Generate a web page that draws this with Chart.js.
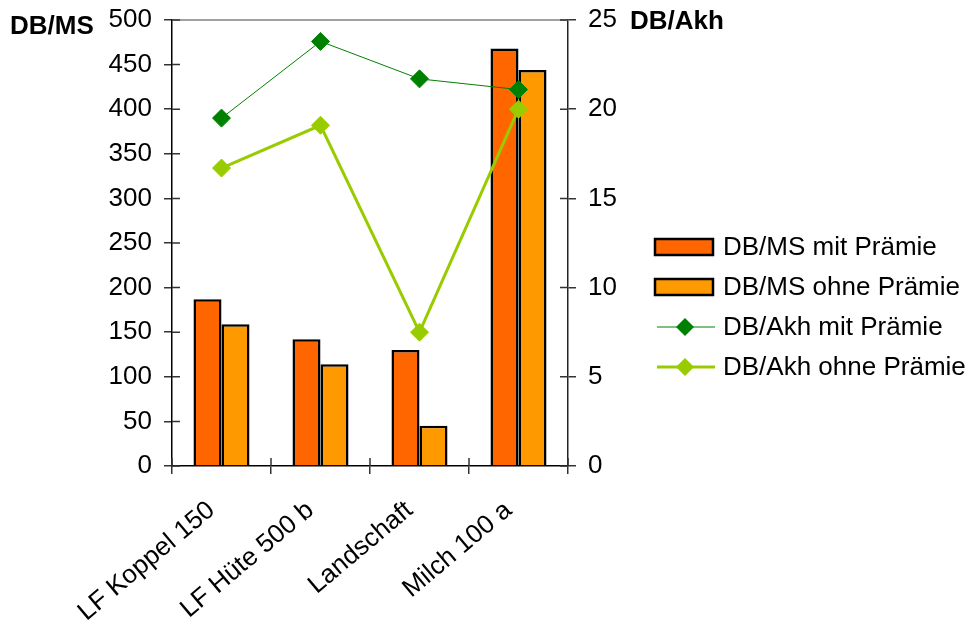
<!DOCTYPE html>
<html>
<head>
<meta charset="utf-8">
<script src="https://cdn.jsdelivr.net/npm/chart.js@4.4.1/dist/chart.umd.min.js"></script>
<style>html,body{margin:0;padding:0;background:#fff}</style>
</head>
<body>
<canvas id="c" width="975" height="624"></canvas>
<script>
// Betriebszweige
const categories = ['LF Koppel 150', 'LF Hüte 500 b', 'Landschaft', 'Milch 100 a'];
// Deckungsbeitrag je Mutterschaf (linke Achse)
const dbmsMitPraemie = [187, 142, 130, 468];
const dbmsOhnePraemie = [159, 114, 45, 444];
// Deckungsbeitrag je Arbeitskraftstunde (rechte Achse)
const dbakhMitPraemie = [19.5, 23.8, 21.7, 21.1];
const dbakhOhnePraemie = [16.7, 19.1, 7.5, 20.0];
// Achsentitel
const leftAxisTitle = 'DB/MS';
const rightAxisTitle = 'DB/Akh';

const FONT = 'Arial, "Liberation Sans", sans-serif';
Chart.defaults.font.family = FONT;
Chart.defaults.font.size = 26;
Chart.defaults.color = '#000';

const C_MIT = '#FF6600', C_OHNE = '#FF9900', G_MIT = '#008000', G_OHNE = '#99CC00';

// axis titles, crossing tick marks, frame top edge and the legend
const decor = {
  id: 'decor',
  afterDraw(chart) {
    const {ctx, chartArea: a, scales} = chart;
    ctx.save();
    ctx.strokeStyle = '#808080'; ctx.lineWidth = 1.5;
    ctx.beginPath(); ctx.moveTo(a.left, a.top); ctx.lineTo(a.right, a.top); ctx.stroke();

    ctx.strokeStyle = '#333'; ctx.lineWidth = 1.5;
    ctx.beginPath();
    scales.y.ticks.forEach(t => { const p = scales.y.getPixelForValue(t.value); ctx.moveTo(a.left, p); ctx.lineTo(a.left + 8, p); });
    scales.y1.ticks.forEach(t => { const p = scales.y1.getPixelForValue(t.value); ctx.moveTo(a.right - 8, p); ctx.lineTo(a.right, p); });
    for (let i = 0; i <= categories.length; i++) {
      const p = scales.x.getPixelForValue(i - 0.5);
      ctx.moveTo(p, a.bottom - 8); ctx.lineTo(p, a.bottom);
    }
    ctx.stroke();

    ctx.fillStyle = '#000';
    ctx.font = 'bold 26px ' + FONT;
    ctx.textBaseline = 'middle';
    ctx.textAlign = 'left';
    ctx.fillText(leftAxisTitle, 10, a.top + 7);
    ctx.fillText(rightAxisTitle, a.right + 62, a.top + 2);

    // legend
    const x0 = a.right + 87, y0 = 247, step = 40;
    ctx.font = '26px ' + FONT;
    chart.data.datasets.forEach((ds, i) => {
      const y = y0 + i * step;
      if (ds.type === 'line') {
        ctx.strokeStyle = ds.borderColor; ctx.lineWidth = ds.borderWidth;
        ctx.beginPath(); ctx.moveTo(x0 + 2, y); ctx.lineTo(x0 + 60, y); ctx.stroke();
        ctx.fillStyle = ds.pointBackgroundColor;
        ctx.beginPath();
        ctx.moveTo(x0 + 30, y - 9); ctx.lineTo(x0 + 39, y); ctx.lineTo(x0 + 30, y + 9); ctx.lineTo(x0 + 21, y);
        ctx.closePath(); ctx.fill();
      } else {
        ctx.fillStyle = ds.backgroundColor; ctx.fillRect(x0, y - 8, 58, 16);
        ctx.strokeStyle = '#000'; ctx.lineWidth = 2.5; ctx.strokeRect(x0, y - 8, 58, 16);
      }
      ctx.fillStyle = '#000';
      ctx.fillText(ds.label, x0 + 68, y + 1);
    });
    ctx.restore();
  }
};

const datasets = [
  { type: 'bar', label: 'DB/MS mit Prämie', data: dbmsMitPraemie, backgroundColor: C_MIT, borderColor: '#000', borderWidth: 2.5, yAxisID: 'y', order: 2 },
  { type: 'bar', label: 'DB/MS ohne Prämie', data: dbmsOhnePraemie, backgroundColor: C_OHNE, borderColor: '#000', borderWidth: 2.5, yAxisID: 'y', order: 2 },
  { type: 'line', label: 'DB/Akh mit Prämie', data: dbakhMitPraemie, borderColor: G_MIT, borderWidth: 1, pointStyle: 'rectRot', pointRadius: 9, pointBackgroundColor: G_MIT, pointBorderColor: G_MIT, pointBorderWidth: 1, yAxisID: 'y1', order: 1 },
  { type: 'line', label: 'DB/Akh ohne Prämie', data: dbakhOhnePraemie, borderColor: G_OHNE, borderWidth: 3, pointStyle: 'rectRot', pointRadius: 9, pointBackgroundColor: G_OHNE, pointBorderColor: G_OHNE, pointBorderWidth: 1, yAxisID: 'y1', order: 0 }
];

const noPad = s => { s.paddingTop = 0; s.paddingBottom = 0; };

new Chart(document.getElementById('c'), {
  type: 'bar',
  data: { labels: categories, datasets },
  options: {
    responsive: false,
    animation: false,
    events: [],
    layout: { padding: { top: 20, right: 334, bottom: 0, left: 0 } },
    datasets: { bar: { categoryPercentage: 0.566, barPercentage: 1 } },
    plugins: { tooltip: { enabled: false }, legend: { display: false } },
    scales: {
      x: {
        grid: { drawOnChartArea: false, tickLength: 8, color: '#333', lineWidth: 1.5, offset: true },
        border: { color: '#000', width: 1.5 },
        ticks: { minRotation: 40, maxRotation: 40, padding: 21, labelOffset: -10, color: '#000' },
        afterFit: s => { s.height = 158; s.paddingLeft = 0; s.paddingRight = 0; }
      },
      y: {
        position: 'left', min: 0, max: 500,
        ticks: { stepSize: 50, padding: 12, color: '#000' },
        grid: { drawOnChartArea: false, tickLength: 8, color: '#333', lineWidth: 1.5 },
        border: { color: '#000', width: 1.5 },
        afterFit: s => { s.width = 172; noPad(s); }
      },
      y1: {
        position: 'right', min: 0, max: 25,
        ticks: { stepSize: 5, padding: 12, color: '#000' },
        grid: { drawOnChartArea: false, tickLength: 8, color: '#333', lineWidth: 1.5 },
        border: { color: '#222', width: 1.5 },
        afterFit: s => { s.width = 73; noPad(s); }
      }
    }
  },
  plugins: [decor]
});
</script>
</body>
</html>
